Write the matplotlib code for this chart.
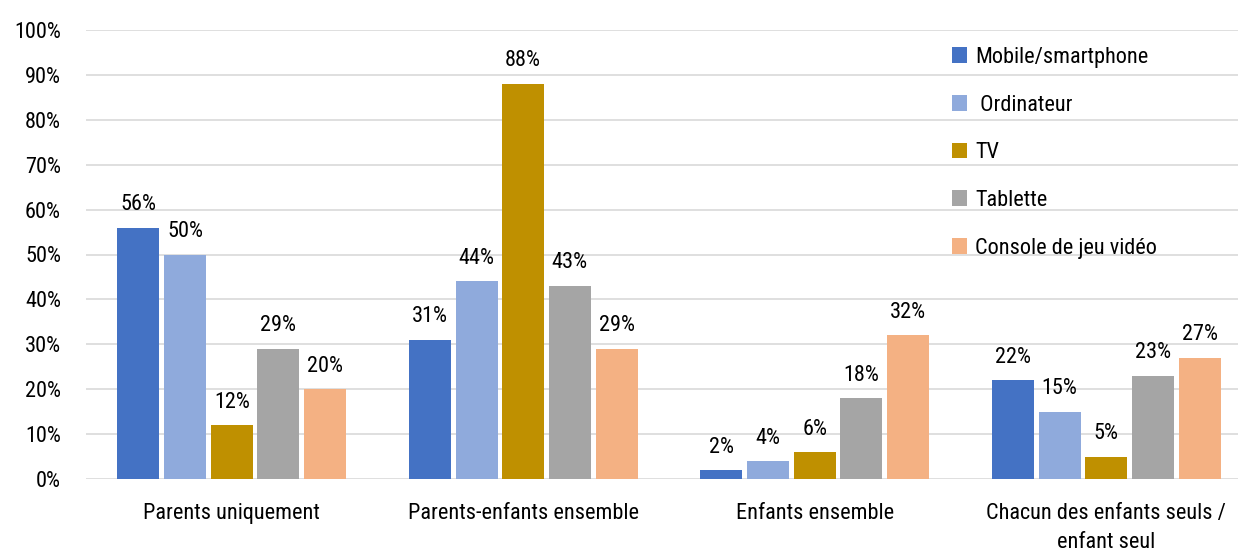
import matplotlib
matplotlib.use("Agg")
import matplotlib.pyplot as plt
import numpy as np
from matplotlib import font_manager

categories = ["Parents uniquement", "Parents-enfants ensemble", "Enfants ensemble",
              "Chacun des enfants seuls /\nenfant seul"]
series_names = ["Mobile/smartphone", " Ordinateur", "TV", "Tablette", "Console de jeu vidéo"]
mobile = [56, 31, 2, 22]
ordinateur = [50, 44, 4, 15]
tv = [12, 88, 6, 5]
tablette = [29, 43, 18, 23]
console = [20, 29, 32, 27]
colors = ["#4472C4", "#8FAADC", "#BF9000", "#A5A5A5", "#F4B183"]
yticks = [0, 10, 20, 30, 40, 50, 60, 70, 80, 90, 100]

# Prefer a narrow typeface for the labels
fonts = font_manager.fontManager.ttflist
names = {f.name for f in fonts}
family = "DejaVu Sans"
for cand in ["Roboto Condensed", "Open Sans Condensed", "Liberation Sans Narrow",
             "DejaVu Sans Condensed"]:
    if cand in names:
        family = cand
        break
plt.rcParams["font.family"] = [family, "DejaVu Sans"]
if family == "DejaVu Sans":
    plt.rcParams["font.stretch"] = "condensed"

W, H = 1238, 555
fig = plt.figure(figsize=(W / 100, H / 100), dpi=100)
ax = fig.add_axes([86 / W, 1 - 479 / H, (W - 86) / W, (479 - 30) / H])

values = [mobile, ordinateur, tv, tablette, console]
x = np.arange(len(categories))
step = 0.16
width = 0.144
for i, (name, vals, c) in enumerate(zip(series_names, values, colors)):
    pos = x + (i - 2) * step
    bars = ax.bar(pos, vals, width, color=c, label=name, zorder=2)
    for b, v in zip(bars, vals):
        ax.annotate(f"{v}%", (b.get_x() + b.get_width() / 2, v), xytext=(0, 9),
                    textcoords="offset points", ha="center", va="bottom",
                    fontsize=16, color="#000000")

ax.set_ylim(0, 100)
ax.set_xlim(-0.5, 3.5 - 14 / 291.5)
ax.set_yticks(yticks)
ax.set_yticklabels([f"{t}%" for t in yticks], fontsize=16)
ax.set_xticks(x)
ax.set_xticklabels(categories, fontsize=16, linespacing=1.5)
ax.tick_params(axis="y", length=0, pad=18)
ax.tick_params(axis="x", length=0, pad=17)
ax.grid(axis="y", color="#D9D9D9", linewidth=1.2, zorder=0)
for s in ax.spines.values():
    s.set_visible(False)

leg = ax.legend(loc="upper left", bbox_to_anchor=(943 / W, 1 - 38 / H),
                bbox_transform=fig.transFigure, frameon=False, fontsize=16,
                handlelength=0.7, handleheight=0.7, handletextpad=0.35,
                labelspacing=1.2, borderaxespad=0)

fig.savefig("out.png", dpi=100)
